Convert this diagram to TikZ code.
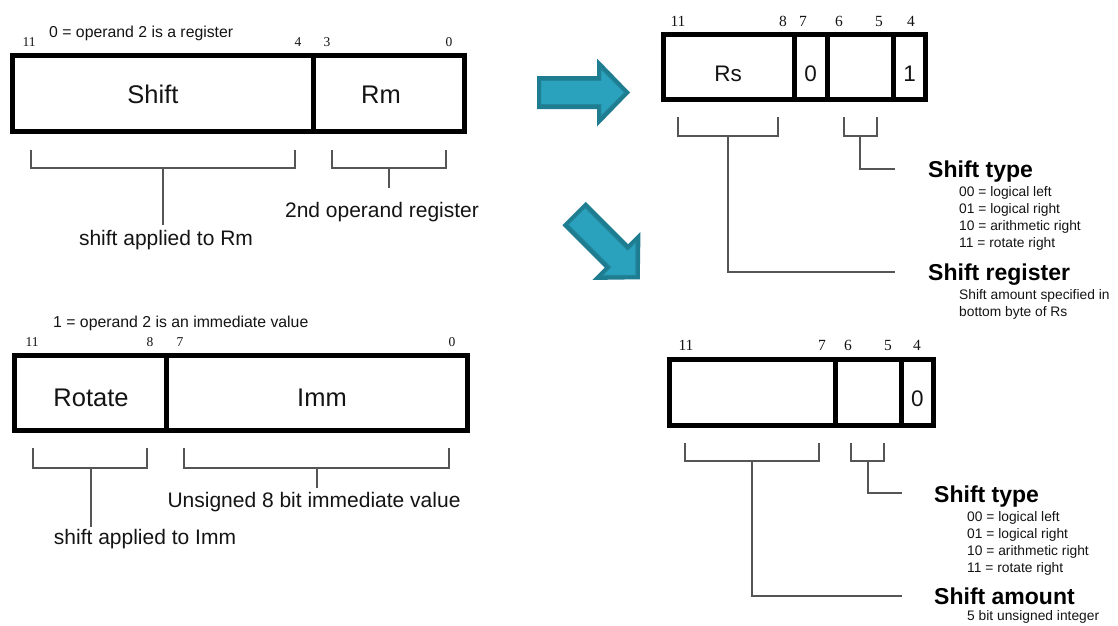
\documentclass[tikz,border=0pt]{standalone}
\usepackage{fontspec}
\setmainfont{Liberation Sans}
\newfontfamily\bitfont{Liberation Serif}
\definecolor{tealdark}{HTML}{1F7D92}
\definecolor{teallight}{HTML}{2BA2BD}
\definecolor{tealline}{HTML}{23879C}
\definecolor{brkgray}{HTML}{555555}
\definecolor{txt}{HTML}{141414}
\begin{document}
\begin{tikzpicture}[x=1pt,y=-1pt,
  fieldL/.style={draw=black,line width=5pt,inner sep=0pt,minimum height=76pt},
  fieldR/.style={draw=black,line width=5pt,inner sep=0pt,minimum height=66pt},
  ftxtL/.style={inner sep=0pt,anchor=base,text=txt,font=\fontsize{25.5}{25.5}\selectfont},
  ftxtR/.style={inner sep=0pt,anchor=base,text=txt,font=\fontsize{22.5}{22.5}\selectfont},
  bitL/.style={inner sep=0pt,anchor=base,text=txt,font=\bitfont\fontsize{13.5}{13.5}\selectfont},
  bitR/.style={inner sep=0pt,anchor=base,text=txt,font=\bitfont\fontsize{15.5}{15.5}\selectfont},
  note/.style={inner sep=0pt,anchor=base west,text=txt,font=\fontsize{15.8}{16}\selectfont},
  desc/.style={inner sep=0pt,anchor=base,text=txt,font=\fontsize{21}{21}\selectfont},
  headtxt/.style={inner sep=0pt,anchor=base west,text=black,font=\bfseries\fontsize{23}{23}\selectfont},
  itemtxt/.style={inner sep=0pt,anchor=base west,text=txt,font=\fontsize{13.8}{14}\selectfont},
  brk/.style={draw=brkgray,line width=1.3pt},
  fatarrow/.pic={
    \fill[tealdark] (0,-16.5) -- (60,-16.5) -- (60,-34) -- (93,0) -- (60,34) -- (60,16.5) -- (0,16.5) -- cycle;
    \filldraw[fill=teallight,draw=tealline,line width=0.8pt]
      (4,-12) -- (64,-12) -- (64,-23.5) -- (87.5,0) -- (64,23.5) -- (64,12) -- (4,12) -- cycle;
  }
]
\useasboundingbox[fill=white] (0,0) rectangle (1118,625);

% ---------- top-left: register form ----------
\node[note] (noteA) at (49,37.7) {0 = operand 2 is a register};
\node[bitL] (bA11) at (29,46.4) {11};
\node[bitL] (bA4) at (298,46.4) {4};
\node[bitL] (bA3) at (327,46.4) {3};
\node[bitL] (bA0) at (449,46.4) {0};
\node[fieldL,minimum width=300.5pt] (fShift) at (162.75,93.5) {};
\node[fieldL,minimum width=151.5pt] (fRm) at (388.75,93.5) {};
\node[ftxtL] (tShift) at (153,103) {Shift};
\node[ftxtL] (tRm) at (381,103) {Rm};
\node[desc] (dShiftRm) at (166,245.5) {shift applied to Rm};
\node[desc] (dOpReg) at (382,217.5) {2nd operand register};
\coordinate (kA1) at (163,168);
\coordinate (kA1e) at (163,225);
\coordinate (kA2) at (389,168);
\coordinate (kA2e) at (389,188);
\draw[brk] (31,150) -- (31,168) -- (295,168) -- (295,150);
\draw[brk] (kA1) -- (kA1e);
\draw[brk] (332,150) -- (332,168) -- (446,168) -- (446,150);
\draw[brk] (kA2) -- (kA2e);

% ---------- bottom-left: immediate form ----------
\node[note] (noteB) at (53,327.7) {1 = operand 2 is an immediate value};
\node[bitL] (bB11) at (32,346.4) {11};
\node[bitL] (bB8) at (150,346.4) {8};
\node[bitL] (bB7) at (180,346.4) {7};
\node[bitL] (bB0) at (452,346.4) {0};
\node[fieldL,minimum width=151.5pt,minimum height=75pt] (fRot) at (90.25,393) {};
\node[fieldL,minimum width=301.5pt,minimum height=75pt] (fImm) at (316.75,393) {};
\node[ftxtL] (tRot) at (91,406) {Rotate};
\node[ftxtL] (tImm) at (322,406) {Imm};
\node[desc] (dShiftImm) at (145,544.5) {shift applied to Imm};
\node[desc] (dUns) at (314,507.5) {Unsigned 8 bit immediate value};
\coordinate (kB1) at (91,468);
\coordinate (kB1e) at (91,527);
\coordinate (kB2) at (317,468);
\coordinate (kB2e) at (317,488);
\draw[brk] (33,448) -- (33,468) -- (147,468) -- (147,448);
\draw[brk] (kB1) -- (kB1e);
\draw[brk] (184,448) -- (184,468) -- (449,468) -- (449,448);
\draw[brk] (kB2) -- (kB2e);

% ---------- arrows ----------
\pic at (537,92.5) {fatarrow};
\pic[rotate=-45] at (574,213.5) {fatarrow};

% ---------- top-right: shift by register ----------
\node[bitR] (cA11) at (678,26) {11};
\node[bitR] (cA8) at (783,26) {8};
\node[bitR] (cA7) at (803,26) {7};
\node[bitR] (cA6) at (839,26) {6};
\node[bitR] (cA5) at (879,26) {5};
\node[bitR] (cA4) at (911,26) {4};
\node[fieldR,minimum width=130.5pt,minimum height=65pt] (gRs) at (728.75,67) {};
\node[fieldR,minimum width=33pt,minimum height=65pt] (gZero) at (810.5,67) {};
\node[fieldR,minimum width=66pt,minimum height=65pt] (gType) at (860,67) {};
\node[fieldR,minimum width=32.5pt,minimum height=65pt] (gOne) at (909.25,67) {};
\node[ftxtR] (tRs) at (728,81.2) {Rs};
\node[ftxtR] (tZeroA) at (810.5,81) {0};
\node[ftxtR] (tOne) at (909.5,81) {1};
\node[headtxt] (hTypeA) at (928,177) {Shift type};
\node[itemtxt] (iA1) at (959,196.5) {00 = logical left};
\node[itemtxt] (iA2) at (959,213) {01 = logical right};
\node[itemtxt] (iA3) at (959,230) {10 = arithmetic right};
\node[itemtxt] (iA4) at (959,247) {11 = rotate right};
\node[headtxt] (hReg) at (928,280) {Shift register};
\node[itemtxt] (iR1) at (959,299) {Shift amount specified in};
\node[itemtxt] (iR2) at (959,316) {bottom byte of Rs};
\coordinate (kC1) at (728,136);
\coordinate (kC1e) at (895,272);
\coordinate (kC2) at (860,136);
\coordinate (kC2e) at (895,169);
\draw[brk] (678,117) -- (678,136) -- (778,136) -- (778,117);
\draw[brk] (kC1) |- (kC1e);
\draw[brk] (844,117) -- (844,136) -- (877,136) -- (877,117);
\draw[brk] (kC2) |- (kC2e);

% ---------- bottom-right: shift by immediate ----------
\node[bitR] (cB11) at (686,350) {11};
\node[bitR] (cB7) at (822,350) {7};
\node[bitR] (cB6) at (848,350) {6};
\node[bitR] (cB5) at (888,350) {5};
\node[bitR] (cB4) at (917,350) {4};
\node[fieldR,minimum width=165.5pt] (hAmt) at (752.25,392.5) {};
\node[fieldR,minimum width=66pt] (hType) at (868,392.5) {};
\node[fieldR,minimum width=32.5pt] (hZero) at (917.25,392.5) {};
\node[ftxtR] (tZeroB) at (917.25,406) {0};
\node[headtxt] (hTypeB) at (934,502) {Shift type};
\node[itemtxt] (iB1) at (967,521) {00 = logical left};
\node[itemtxt] (iB2) at (967,538) {01 = logical right};
\node[itemtxt] (iB3) at (967,555) {10 = arithmetic right};
\node[itemtxt] (iB4) at (967,572) {11 = rotate right};
\node[headtxt] (hAmtTxt) at (934,604) {Shift amount};
\node[itemtxt] (iS1) at (967,620.5) {5 bit unsigned integer};
\coordinate (kD1) at (752,461);
\coordinate (kD1e) at (902,596);
\coordinate (kD2) at (868,461);
\coordinate (kD2e) at (902,493);
\draw[brk] (685,443) -- (685,461) -- (819,461) -- (819,443);
\draw[brk] (kD1) |- (kD1e);
\draw[brk] (851,443) -- (851,461) -- (884,461) -- (884,443);
\draw[brk] (kD2) |- (kD2e);
\end{tikzpicture}
\end{document}
